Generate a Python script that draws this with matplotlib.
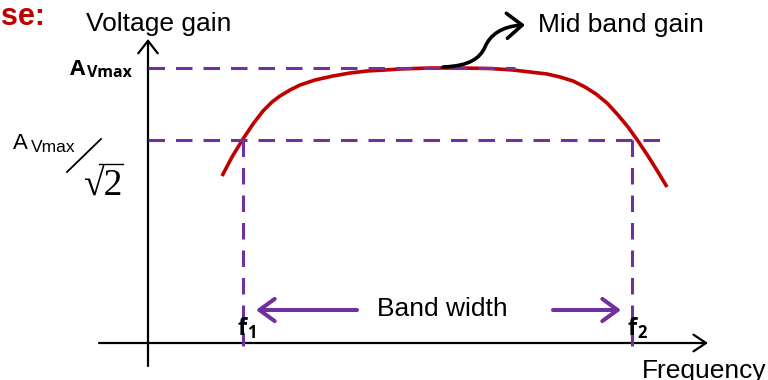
import matplotlib.pyplot as plt
from matplotlib.patches import FancyArrowPatch
from matplotlib.path import Path

plt.rcParams['font.family'] = ['Liberation Sans', 'DejaVu Sans']

RED = '#C00000'
PURPLE = '#7030A0'

# response curve (x to the right, y downwards)
curve_x = [222, 232, 243, 253, 263, 272, 280, 290, 300, 315, 333, 350, 367, 385, 400,
           430, 460, 490, 513, 530, 547, 560, 573, 585, 596, 607, 618, 628, 638, 648, 658, 667]
curve_y = [176, 157, 139, 124, 111, 102, 96, 90, 85, 80, 76, 73, 71, 70, 69,
           68, 68, 68.5, 70, 72, 74, 77, 81, 87, 94, 103, 115, 127, 141, 156, 172, 187]

a_vmax_level = 67.5
half_power_level = 139.5
f_cut = [243, 632]
origin = (148, 343)

# mid band pointer (bezier)
mid_verts = [(443, 67), (470, 66), (480, 58), (485, 47), (490, 35), (502, 26), (525, 25)]

fig = plt.figure(figsize=(7.68, 3.8), dpi=100)
ax = fig.add_axes([0, 0, 1, 1])
ax.set_xlim(0, 768)
ax.set_ylim(380, 0)
ax.axis('off')

# axes with arrows
ax.add_patch(FancyArrowPatch((99, origin[1]), (708, origin[1]), arrowstyle='->,head_length=0.45,head_width=0.3',
                             mutation_scale=20, lw=1.6, color='black', shrinkA=0, shrinkB=0))
ax.add_patch(FancyArrowPatch((origin[0], 366), (origin[0], 39), arrowstyle='->,head_length=0.45,head_width=0.35',
                             mutation_scale=20, lw=1.6, color='black', shrinkA=0, shrinkB=0))

ax.plot(curve_x, curve_y, color=RED, lw=2.6, solid_capstyle='butt', solid_joinstyle='round', zorder=2)

dash = dict(color=PURPLE, lw=2.2, dashes=(5.4, 3.6), dash_capstyle='butt', zorder=3)
ax.plot([origin[0], 515], [a_vmax_level, a_vmax_level], **dash)
ax.plot([origin[0], 660], [half_power_level, half_power_level], **dash)
for fx in f_cut:
    ax.plot([fx, fx], [half_power_level, 346], **dash)

mid_path = Path(mid_verts, [Path.MOVETO] + [Path.CURVE4] * 6)
ax.add_patch(FancyArrowPatch(path=mid_path, arrowstyle='->,head_length=0.55,head_width=0.45',
                             mutation_scale=20, lw=2.6, color='black', zorder=4))

# band width arrows
ax.add_patch(FancyArrowPatch((357, 310), (256, 310), arrowstyle='->,head_length=0.55,head_width=0.4',
                             mutation_scale=20, lw=2.9, color=PURPLE, shrinkA=0, shrinkB=0))
ax.add_patch(FancyArrowPatch((553, 310), (621, 310), arrowstyle='->,head_length=0.55,head_width=0.4',
                             mutation_scale=20, lw=2.9, color=PURPLE, shrinkA=0, shrinkB=0))

# texts
ax.text(45, 25, 'Response:', ha='right', va='baseline', fontsize=22, fontweight='bold', color=RED)
ax.text(86, 31, 'Voltage gain', ha='left', va='baseline', fontsize=19)
ax.text(538, 32, 'Mid band gain', ha='left', va='baseline', fontsize=19)
ax.text(377, 316, 'Band width', ha='left', va='baseline', fontsize=19)
ax.text(642, 378, 'Frequency', ha='left', va='baseline', fontsize=19)

bold = dict(family=['Open Sans', 'DejaVu Sans'], fontweight='bold', va='baseline', ha='left')
ax.text(70, 75, 'A', fontsize=16, **bold)
ax.text(87, 77, 'Vmax', fontsize=11.5, **bold)
ax.text(237, 335, 'f', fontsize=17, **bold)
ax.text(247, 338, '1', fontsize=12, **bold)
ax.text(627, 335, 'f', fontsize=17, **bold)
ax.text(637, 338, '2', fontsize=12, **bold)

ax.text(13, 149, 'A', fontsize=16, va='baseline', ha='left')
ax.text(31, 152, 'Vmax', fontsize=12.5, va='baseline', ha='left')
ax.plot([67, 101], [172, 139], color='black', lw=1.3)
ax.text(83, 196, '\u221a2', fontsize=27, family=['Liberation Serif', 'DejaVu Serif'],
        va='baseline', ha='left')
ax.plot([99, 123], [164, 164], color='black', lw=1.0)

fig.savefig('out.png', dpi=100)
